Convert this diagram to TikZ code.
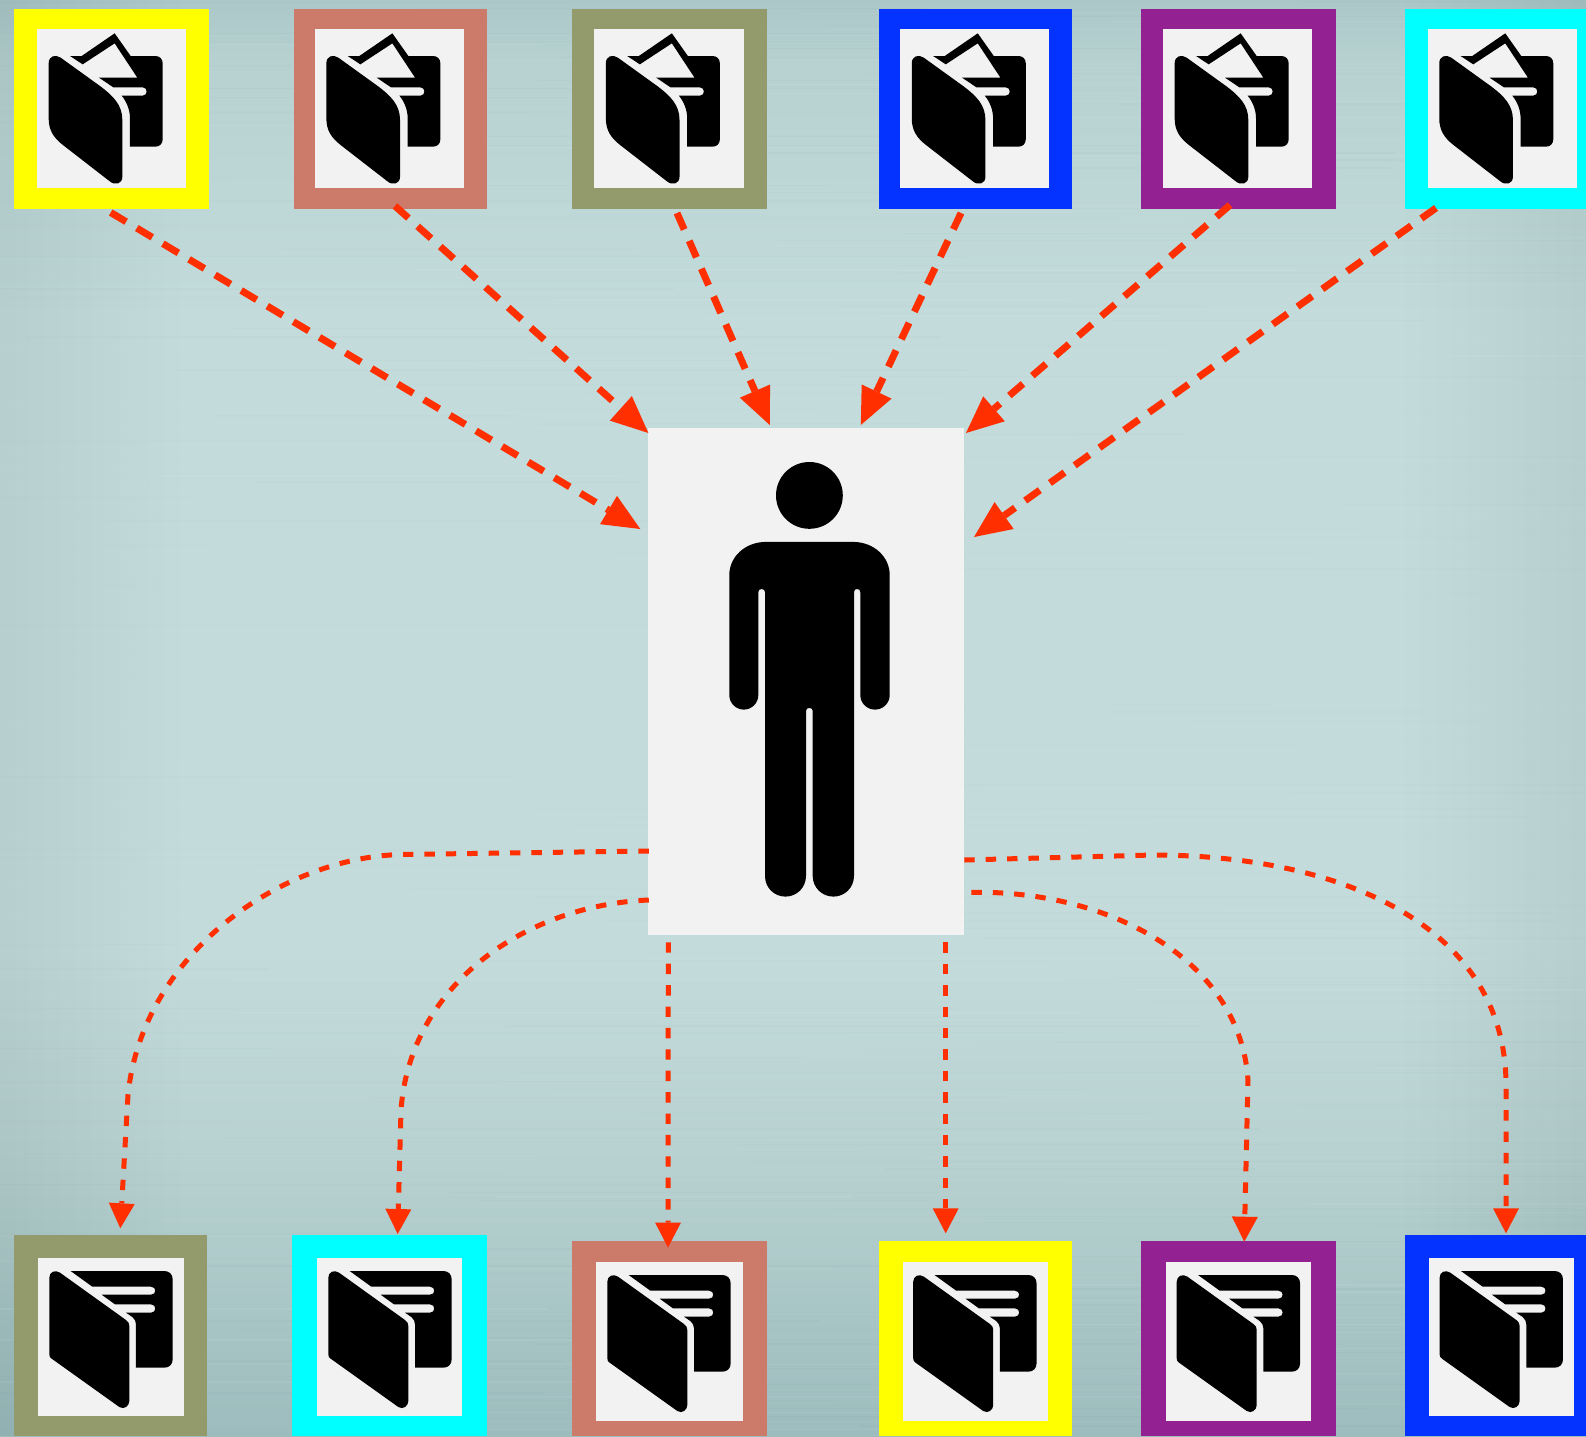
\documentclass[tikz,border=0pt]{standalone}
\usetikzlibrary{arrows.meta}
\definecolor{bgTop}{HTML}{ABC7C7}
\definecolor{bgUp}{HTML}{B7D1D1}
\definecolor{bgA}{HTML}{C3DCDB}
\definecolor{bgLow}{HTML}{B8D2D1}
\definecolor{bgBot}{HTML}{9DBCBD}
\definecolor{bgEdge}{HTML}{8FB0B1}
\definecolor{bgLine}{HTML}{6F9596}
\definecolor{cYellow}{HTML}{FFFF00}
\definecolor{cSalmon}{HTML}{CC7A69}
\definecolor{cOlive}{HTML}{939A6B}
\definecolor{cBlue}{HTML}{0433FF}
\definecolor{cPurple}{HTML}{942192}
\definecolor{cCyan}{HTML}{00FFFF}
\definecolor{cPaper}{HTML}{F2F2F2}
\definecolor{cRed}{HTML}{FF2F00}
\newcommand\boxn[6]{\node[plainbox, fill=#2, minimum width={(#5-#3)*0.5pt}, minimum height={(#6-#4)*0.5pt}] (#1) at ({(#3+#5)/2},{(#4+#6)/2}) {};}
\tikzset{
  x=0.5pt, y=-0.5pt,
  plainbox/.style={rectangle, draw=none, inner sep=0pt, outer sep=0pt},
  inflow/.style={draw=cRed, line width=3.5pt, dash pattern=on 9pt off 6.2pt, -{Triangle[length=18.5pt,width=16.5pt,line width=0pt]}},
  outflow/.style={draw=cRed, line width=2.5pt, dash pattern=on 5.2pt off 5.5pt, -{Triangle[length=12.5pt,width=13pt,line width=0pt]}},
  pics/topicon/.style={code={
    \fill[black] (146,190) .. controls (146,168) and (166,162) .. (182,173) -- (300,258) .. controls (340,288) and (367,315) .. (367,360) -- (367,530) .. controls (367,552) and (345,558) .. (328,543) -- (190,436) .. controls (160,413) and (146,390) .. (146,355) -- cycle;
    \fill[black] (210,168) -- (245,168) -- (344,100) -- (392,168) -- (466,168) .. controls (479,168) and (488,177) .. (488,190) -- (488,418) .. controls (488,431) and (479,440) .. (466,440) -- (390,440) -- (390,355) .. controls (390,330) and (380,305) .. (365,287) -- (428,287) .. controls (444,287) and (444,262) .. (428,262) -- (340,262) -- (297,233) -- (412,233) -- (344,130) -- (248,193) -- cycle;
  }},
  pics/boticon/.style={code={
    \fill[black] (148,185) .. controls (148,168) and (165,160) .. (180,170) -- (378,312) .. controls (385,317) and (388,322) .. (388,330) -- (388,555) .. controls (388,570) and (372,582) .. (358,573) -- (155,428) .. controls (150,424) and (148,422) .. (148,415) -- cycle;
    \fill[black] (212,165) -- (493,165) .. controls (508,165) and (518,175) .. (518,190) -- (518,430) .. controls (518,445) and (508,455) .. (493,455) -- (408,455) -- (408,325) .. controls (408,315) and (404,310) .. (397,303) -- (378,290) -- (453,290) .. controls (470,290) and (470,265) .. (453,265) -- (345,265) -- (305,236) -- (453,236) .. controls (470,236) and (470,212) .. (453,212) -- (277,212) -- cycle;
  }}
}
\begin{document}
\begin{tikzpicture}
\useasboundingbox (0,0) rectangle (1586,1436);
% paper background: vertical tone, darker side margins, faint horizontal grain
\begin{scope}
\clip (0,0) rectangle (1586,1436);
\shade[top color=bgTop, bottom color=bgUp] (0,0) rectangle (1586,61);
\shade[top color=bgUp, bottom color=bgA] (0,60) rectangle (1586,321);
\fill[bgA] (0,320) rectangle (1586,951);
\shade[top color=bgA, bottom color=bgLow] (0,950) rectangle (1586,1151);
\shade[top color=bgLow, bottom color=bgBot] (0,1150) rectangle (1586,1436);
\foreach \i in {1,...,12}{
  \fill[bgEdge, opacity=0.012] (0,0) rectangle ({\i*15},1436);
  \fill[bgEdge, opacity=0.007] ({1586-\i*15},0) rectangle (1586,1436);
}
\pgfmathsetseed{11}
\foreach \i in {0,...,358}{
  \pgfmathsetmacro\yy{\i*4+2*rnd}
  \pgfmathsetmacro\xa{rnd*1586-200}
  \pgfmathsetmacro\seglen{300+rnd*700}
  \pgfmathsetmacro\op{0.01+0.05*abs(\yy-650)/700}
  \ifodd\i\def\tone{white}\else\def\tone{bgLine}\fi
  \draw[draw=\tone, opacity=\op, line width=0.6pt] (\xa,\yy) -- ++(\seglen,0);
}
\end{scope}
% top row
\boxn{t1}{cYellow}{14}{9}{209}{209}\boxn{t1i}{cPaper}{37.3}{29}{186}{188}
\boxn{t2}{cSalmon}{294}{9}{487.3}{209}\boxn{t2i}{cPaper}{315}{29}{464.3}{188}
\boxn{t3}{cOlive}{572.3}{9}{767.3}{209}\boxn{t3i}{cPaper}{594.3}{29}{744.3}{188}
\boxn{t4}{cBlue}{878.5}{9}{1071.6}{209}\boxn{t4i}{cPaper}{900.3}{29}{1049.4}{188}
\boxn{t5}{cPurple}{1140.6}{9}{1335.5}{209}\boxn{t5i}{cPaper}{1163}{29}{1312.3}{188}
\boxn{t6}{cCyan}{1405}{9}{1586}{209}\boxn{t6i}{cPaper}{1428}{29}{1577}{188}
\pic[scale=1/3] at (0,0) {topicon};
\pic[scale=1/3] at (277.7,0) {topicon};
\pic[scale=1/3] at (557.2,0) {topicon};
\pic[scale=1/3] at (863.1,0) {topicon};
\pic[scale=1/3] at (1126,0) {topicon};
\pic[scale=1/3] at (1390.6,0) {topicon};
% bottom row
\boxn{b1}{cOlive}{14}{1235}{207}{1436}\boxn{b1i}{cPaper}{38.3}{1258}{184}{1416}
\boxn{b2}{cCyan}{292}{1235}{487.3}{1436}\boxn{b2i}{cPaper}{317.3}{1258}{462.3}{1416}
\boxn{b3}{cSalmon}{572.3}{1241}{767.3}{1436}\boxn{b3i}{cPaper}{596.3}{1262}{742.7}{1421}
\boxn{b4}{cYellow}{878.5}{1241}{1071.6}{1436}\boxn{b4i}{cPaper}{902.6}{1262}{1047.5}{1421}
\boxn{b5}{cPurple}{1140.6}{1241}{1335.5}{1436}\boxn{b5i}{cPaper}{1165.6}{1262}{1311.4}{1421}
\boxn{b6}{cBlue}{1405}{1235}{1586}{1436}\boxn{b6i}{cPaper}{1429}{1258}{1574.4}{1416}
\pic[scale=1/3] at (0,1216) {boticon};
\pic[scale=1/3] at (279,1216) {boticon};
\pic[scale=1/3] at (558,1220) {boticon};
\pic[scale=1/3] at (863.9,1220) {boticon};
\pic[scale=1/3] at (1127.4,1220) {boticon};
\pic[scale=1/3] at (1390.3,1216) {boticon};
% person
\boxn{man}{cPaper}{648.3}{427.8}{964.3}{934.5}
\fill[black] (809.4,495.4) circle[radius=33.4];
\fill[black] (766,541.9) -- (853,541.9) .. controls (874,541.9) and (889.7,557) .. (889.7,575) -- (889.7,695.1) .. controls (889.7,703) and (883.2,709.6) .. (875,709.6) .. controls (866.8,709.6) and (860.3,703) .. (860.3,695.1) -- (860.3,592.2) .. controls (860.3,590) and (859,589) .. (857.2,589) .. controls (855.3,589) and (854,590) .. (854,592.2) -- (854,876) .. controls (854,887.5) and (844.8,896.6) .. (833.4,896.6) .. controls (822,896.6) and (812.7,887.5) .. (812.7,876) -- (812.7,711) .. controls (812.7,709) and (811.4,707.9) .. (809.4,707.9) .. controls (807.4,707.9) and (806,709) .. (806,711) -- (806,876) .. controls (806,887.5) and (796.8,896.6) .. (785.5,896.6) .. controls (774,896.6) and (765,887.5) .. (765,876) -- (765,592.2) .. controls (765,590) and (763.7,589) .. (761.6,589) .. controls (759.6,589) and (758.3,590) .. (758.3,592.2) -- (758.3,695.1) .. controls (758.3,703) and (751.8,709.6) .. (743.8,709.6) .. controls (735.8,709.6) and (729.3,703) .. (729.3,695.1) -- (729.3,575) .. controls (729.3,557) and (745,541.9) .. (766,541.9) -- cycle;
% connectors in
\draw[inflow] ([shift={(-0.8,3.5)}]t1.south) -- ([shift={(-8,101.2)}]man.north west);
\draw[inflow] ([shift={(4.35,-3)}]t2.south) -- ([shift={(0.1,5.2)}]man.north west);
\draw[inflow] ([shift={(7.2,4)}]t3.south) -- ([shift={(121.5,-2.8)}]man.north west);
\draw[inflow] ([shift={(-14,4)}]t4.south) -- ([shift={(212.5,-2.8)}]man.north west);
\draw[inflow] ([shift={(-8,-4)}]t5.south) -- ([shift={(1.7,5.2)}]man.north east);
\draw[inflow] ([shift={(-59.5,-1)}]t6.south) -- ([shift={(9.7,109.2)}]man.north east);
% connectors out
\draw[outflow] ([shift={(0.5,-83.5)}]man.south west) -- (400,854.5) .. controls (280,858) and (142,955) .. (128,1095) -- ([shift={(9.8,-6.7)}]b1.north);
\draw[outflow] ([shift={(0.5,-34.5)}]man.south west) .. controls (525,905) and (410,985) .. (401,1110) -- ([shift={(8,-1)}]b2.north);
\draw[outflow] ([shift={(20,7.8)}]man.south west) -- ([shift={(-1.8,6.5)}]b3.north);
\draw[outflow] ([shift={(-18.6,7.8)}]man.south east) -- ([shift={(-29.35,-7.7)}]b4.north);
\draw[outflow] ([shift={(7.1,-42.2)}]man.south east) .. controls (1110,890) and (1240,960) .. (1248,1080) -- ([shift={(6.2,0.7)}]b5.north);
\draw[outflow] ([shift={(0,-74.5)}]man.south east) -- (1153,855) .. controls (1340,855) and (1506,925) .. (1506,1085) -- ([shift={(10.5,-1.7)}]b6.north);
\end{tikzpicture}
\end{document}
